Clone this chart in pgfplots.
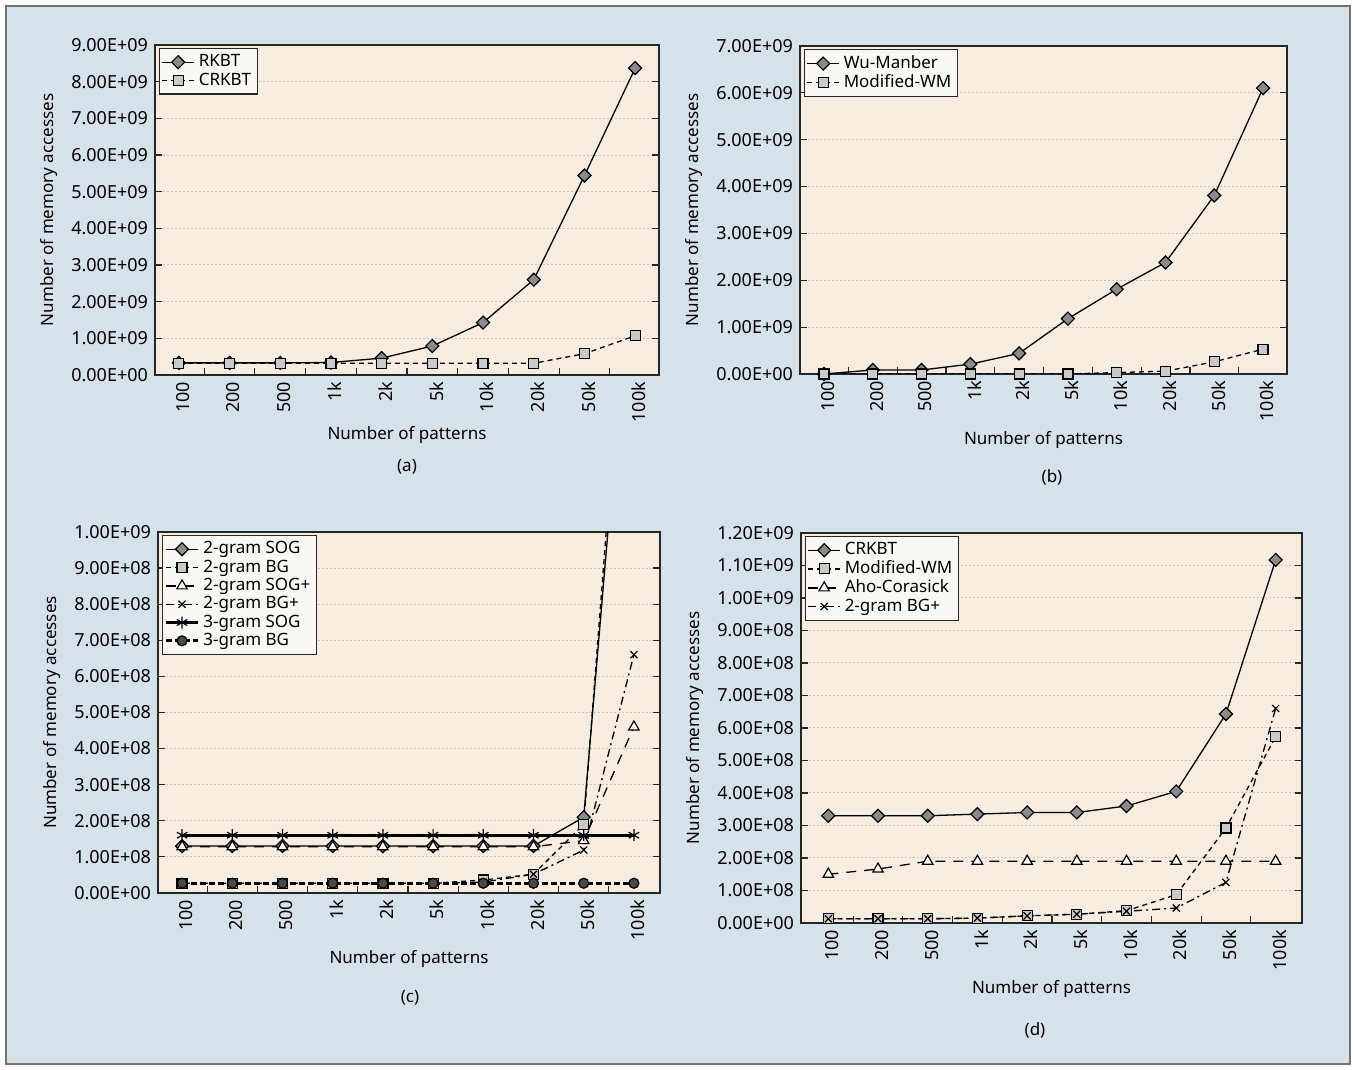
\documentclass[border=0pt]{standalone}
\usepackage{pgfplots}
\pgfplotsset{compat=1.18}
\usepackage{fontspec}
\setmainfont{Noto Sans}

\definecolor{bgblue}{HTML}{D5E2EA}
\definecolor{plotbg}{HTML}{F6EDE0}
\definecolor{legbg}{HTML}{FAF8F3}
\definecolor{gridc}{HTML}{C8C2BA}
\definecolor{dia}{HTML}{8A8A8A}
\definecolor{sq}{HTML}{C9C9C9}
\definecolor{circ}{HTML}{4A4A4A}

\pgfplotsset{
 panel/.style={
   scale only axis, anchor=south west,
   axis background/.style={fill=plotbg},
   xmin=-0.5, xmax=9.5, ymin=0,
   scaled y ticks=false,
   xtick={0.5,1.5,...,8.5}, xticklabels={},
   extra x ticks={0,...,9},
   extra x tick labels={100,200,500,1k,2k,5k,10k,20k,50k,100k},
   extra x tick style={major tick length=0pt},
   xticklabel style={rotate=90, anchor=east, yshift=-2pt, font=\fontsize{9}{10}\selectfont},
   yticklabel style={font=\fontsize{9}{10}\selectfont},
   xtick pos=lower, ytick pos=both, tick align=inside,
   major tick length=3.5pt,
   ymajorgrids, grid style={gridc, dash pattern=on 1pt off 1pt, line width=0.5pt},
   xlabel={Number of patterns}, ylabel={Number of memory accesses},
   xlabel style={yshift=2pt},
   axis line style={line width=0.7pt, black!85},
   tick style={line width=0.6pt, black!85},
   font=\fontsize{8.5}{10}\selectfont,
   legend cell align=left,
   legend style={at={(0,1)}, anchor=north west, xshift=2pt, yshift=-1.5pt, fill=legbg, draw=black!85, line width=0.6pt, font=\fontsize{8.5}{9}\selectfont, inner sep=1pt, row sep=-2.5pt},
   legend image code/.code={\draw[mark repeat=2,mark phase=2] plot coordinates {(0cm,0cm) (0.28cm,0cm) (0.56cm,0cm)};},
   every axis plot/.append style={line width=0.65pt, black},
 },
 sdia/.style={solid, mark=square*, mark size=2.3pt, mark options={solid, rotate=45, fill=dia, line width=0.6pt}},
 ssq/.style={dash pattern=on 2.5pt off 2pt, mark=square*, mark size=2.5pt, mark options={solid, fill=sq, line width=0.6pt}},
 stri/.style={dash pattern=on 5pt off 4pt, mark=triangle*, mark size=3pt, mark options={solid, fill=white, line width=0.6pt}},
 sx/.style={dash pattern=on 4pt off 2pt on 1pt off 2pt, mark=x, mark size=2.5pt, mark options={solid, line width=0.6pt}},
 sstar/.style={solid, line width=1.5pt, mark=asterisk, mark size=3pt, mark options={solid, line width=0.6pt}},
 scirc/.style={dash pattern=on 3pt off 1.5pt, line width=1.5pt, mark=*, mark size=2.5pt, mark options={solid, fill=circ, line width=0.6pt}},
}

\begin{document}
\begin{tikzpicture}
\fill[white] (0,0) rectangle (678pt,535pt);
\draw[fill=bgblue, draw=black!55, line width=0.8pt] (3pt,3pt) rectangle (675pt,532pt);

% (a)
\begin{axis}[panel, at={(77.5pt,347.5pt)}, width=252pt, height=165pt,
  xmin=-0.47, xmax=9.47, ymax=9e9, xlabel style={yshift=3pt},
  ytick={0,1e9,2e9,3e9,4e9,5e9,6e9,7e9,8e9,9e9},
  yticklabels={0.00E+00,1.00E+09,2.00E+09,3.00E+09,4.00E+09,5.00E+09,6.00E+09,7.00E+09,8.00E+09,9.00E+09}]
\addplot[sdia] coordinates {(0,3.3e8)(1,3.3e8)(2,3.3e8)(3,3.4e8)(4,4.6e8)(5,7.9e8)(6,1.43e9)(7,2.6e9)(8,5.44e9)(9,8.37e9)};
\addplot[ssq] coordinates {(0,3.2e8)(1,3.2e8)(2,3.2e8)(3,3.2e8)(4,3.2e8)(5,3.2e8)(6,3.2e8)(7,3.2e8)(8,5.8e8)(9,1.07e9)};
\legend{RKBT,CRKBT}
\end{axis}
\node[font=\fontsize{8.5}{10}\selectfont] at (203.5pt,301.5pt) {(a)};

% (b)
\begin{axis}[panel, at={(400pt,348pt)}, width=243.5pt, height=164pt,
  xmin=-0.49, xmax=9.49, ymax=7e9,
  ytick={0,1e9,2e9,3e9,4e9,5e9,6e9,7e9},
  yticklabels={0.00E+00,1.00E+09,2.00E+09,3.00E+09,4.00E+09,5.00E+09,6.00E+09,7.00E+09}]
\addplot[sdia] coordinates {(0,0)(1,0.085e9)(2,0.085e9)(3,0.21e9)(4,0.44e9)(5,1.18e9)(6,1.81e9)(7,2.38e9)(8,3.81e9)(9,6.1e9)};
\addplot[ssq] coordinates {(0,0)(1,0)(2,0)(3,0)(4,0)(5,0)(6,0.03e9)(7,0.06e9)(8,0.26e9)(9,0.53e9)};
\legend{Wu-Manber,Modified-WM}
\end{axis}
\node[font=\fontsize{8.5}{10}\selectfont] at (526pt,296.5pt) {(b)};

% (c)
\begin{axis}[panel, at={(79pt,88.5pt)}, width=251pt, height=180.5pt,
  xmin=-0.48, xmax=9.52, ymax=1e9,
  ytick={0,1e8,2e8,3e8,4e8,5e8,6e8,7e8,8e8,9e8,1e9},
  yticklabels={0.00E+00,1.00E+08,2.00E+08,3.00E+08,4.00E+08,5.00E+08,6.00E+08,7.00E+08,8.00E+08,9.00E+08,1.00E+09}]
\addplot[sdia] coordinates {(0,1.3e8)(1,1.3e8)(2,1.3e8)(3,1.3e8)(4,1.3e8)(5,1.3e8)(6,1.3e8)(7,1.3e8)(8,2.1e8)};
\addplot[solid, forget plot] coordinates {(8,2.1e8)(9,1.85e9)};
\addplot[ssq] coordinates {(0,0.27e8)(1,0.27e8)(2,0.27e8)(3,0.27e8)(4,0.27e8)(5,0.27e8)(6,0.36e8)(7,0.52e8)(8,1.9e8)};
\addplot[dash pattern=on 2.5pt off 2pt, forget plot] coordinates {(8,1.9e8)(9,2.0e9)};
\addplot[stri] coordinates {(0,1.28e8)(1,1.28e8)(2,1.28e8)(3,1.28e8)(4,1.28e8)(5,1.28e8)(6,1.28e8)(7,1.28e8)(8,1.45e8)(9,4.6e8)};
\addplot[sx] coordinates {(0,0.27e8)(1,0.27e8)(2,0.27e8)(3,0.27e8)(4,0.27e8)(5,0.27e8)(6,0.3e8)(7,0.52e8)(8,1.19e8)(9,6.6e8)};
\addplot[sstar] coordinates {(0,1.6e8)(1,1.6e8)(2,1.6e8)(3,1.6e8)(4,1.6e8)(5,1.6e8)(6,1.6e8)(7,1.6e8)(8,1.6e8)(9,1.6e8)};
\addplot[scirc] coordinates {(0,0.27e8)(1,0.27e8)(2,0.27e8)(3,0.27e8)(4,0.27e8)(5,0.27e8)(6,0.27e8)(7,0.27e8)(8,0.27e8)(9,0.27e8)};
\legend{2-gram SOG,2-gram BG,2-gram SOG+,2-gram BG+,3-gram SOG,3-gram BG}
\end{axis}
\node[font=\fontsize{8.5}{10}\selectfont] at (205pt,36pt) {(c)};

% (d)
\begin{axis}[panel, at={(400.5pt,73.5pt)}, width=250.5pt, height=195pt,
  xmin=-0.55, xmax=9.53, ymax=1.2e9,
  ytick={0,1e8,2e8,3e8,4e8,5e8,6e8,7e8,8e8,9e8,1e9,1.1e9,1.2e9},
  yticklabels={0.00E+00,1.00E+08,2.00E+08,3.00E+08,4.00E+08,5.00E+08,6.00E+08,7.00E+08,8.00E+08,9.00E+08,1.00E+09,1.10E+09,1.20E+09}]
\addplot[sdia] coordinates {(0,3.3e8)(1,3.3e8)(2,3.3e8)(3,3.35e8)(4,3.4e8)(5,3.4e8)(6,3.6e8)(7,4.05e8)(8,6.43e8)(9,11.17e8)};
\addplot[ssq] coordinates {(0,0.13e8)(1,0.13e8)(2,0.13e8)(3,0.15e8)(4,0.22e8)(5,0.27e8)(6,0.38e8)(7,0.87e8)(8,2.92e8)(9,5.73e8)};
\addplot[stri] coordinates {(0,1.5e8)(1,1.66e8)(2,1.9e8)(3,1.9e8)(4,1.9e8)(5,1.9e8)(6,1.9e8)(7,1.9e8)(8,1.9e8)(9,1.9e8)};
\addplot[sx] coordinates {(0,0.13e8)(1,0.13e8)(2,0.13e8)(3,0.15e8)(4,0.22e8)(5,0.27e8)(6,0.36e8)(7,0.46e8)(8,1.25e8)(9,6.6e8)};
\legend{CRKBT,Modified-WM,Aho-Corasick,2-gram BG+}
\end{axis}
\node[font=\fontsize{8.5}{10}\selectfont] at (517.5pt,20pt) {(d)};
\end{tikzpicture}
\end{document}
